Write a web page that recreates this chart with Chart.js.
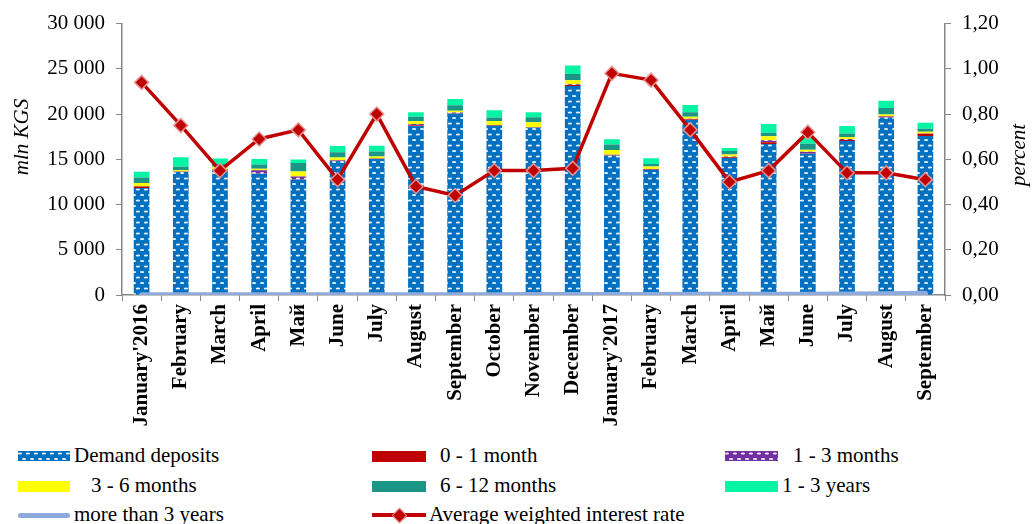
<!DOCTYPE html>
<html>
<head>
<meta charset="utf-8">
<script src="https://cdn.jsdelivr.net/npm/chart.js@4.4.1/dist/chart.umd.min.js"></script>
<style>
  html, body { margin: 0; padding: 0; background: #fff; }
  #wrap { position: relative; width: 1032px; height: 524px; overflow: hidden;
          font-family: "Liberation Serif", "Times New Roman", serif; }
  #chart-box { position: absolute; left: 0; top: 0; width: 1032px; height: 440px; }
  .lg { position: absolute; font-size: 21px; line-height: 21px; color: #000; white-space: pre; }
  .sw { position: absolute; }
</style>
</head>
<body>
<div id="wrap">
  <div id="chart-box"><canvas id="depChart"></canvas></div>
  <div id="legend"></div>
</div>
<script>
"use strict";

const months = ["January'2016", "February", "March", "April", "Май", "June", "July", "August",
    "September", "October", "November", "December", "January'2017", "February", "March", "April",
    "Май", "June", "July", "August", "September"];

// mln KGS, by term
const demand = [11830, 13590, 13850, 13400, 12780, 14800, 15020, 18680, 20050, 18720, 18480,
    23110, 15380, 13810, 19340, 15130, 16700, 15600, 17030, 19630, 17580];
const m0to1 = [150, 30, 50, 30, 20, 50, 30, 50, 80, 50, 30, 90, 30, 30, 70, 90, 180, 50, 110, 70, 250];
const m1to3 = [50, 30, 30, 370, 290, 50, 30, 180, 30, 30, 30, 90, 100, 100, 70, 90, 220, 180, 110, 70, 30];
const m3to6 = [350, 150, 250, 150, 550, 290, 220, 290, 220, 440, 550, 440, 510, 260, 220, 220, 440,
    220, 220, 180, 180];
const m6to12 = [620, 370, 300, 480, 950, 590, 550, 510, 590, 370, 550, 700, 620, 290, 510, 400, 400,
    660, 370, 730, 330];
const y1to3 = [620, 1060, 600, 590, 400, 700, 660, 480, 700, 800, 550, 950, 590, 620, 800, 330, 950,
    660, 840, 800, 660];
const over3y = [30, 30, 30, 30, 30, 30, 40, 40, 40, 40, 50, 50, 60, 60, 70, 70, 80, 90, 100, 130, 200];

// percent
const rate = [0.94, 0.75, 0.55, 0.69, 0.73, 0.51, 0.80, 0.48, 0.44, 0.55, 0.55, 0.56, 0.98, 0.95,
    0.73, 0.50, 0.55, 0.72, 0.54, 0.54, 0.51];

const leftTicks = [0, 5000, 10000, 15000, 20000, 25000, 30000];
const rightTicks = [0, 0.2, 0.4, 0.6, 0.8, 1.0, 1.2];

const FONT = '"Liberation Serif", "Times New Roman", serif';

// dashed fills (staggered white dashes)
function dashTile(bg) {
    const w = 8, h = 11;
    const c = document.createElement("canvas");
    c.width = w; c.height = h;
    const g = c.getContext("2d");
    g.fillStyle = bg;
    g.fillRect(0, 0, w, h);
    g.fillStyle = "rgba(255,255,255,0.9)";
    const dash = (x, y) => {
        g.beginPath(); g.ellipse(x, y, 2.1, 1.1, 0, 0, Math.PI * 2); g.fill();
    };
    dash(2, 2.5);
    dash(6, 8);
    dash(-2, 8);
    dash(10, 2.5);
    return c;
}
const blueTile = dashTile("#0070C0");
const purpleTile = dashTile("#7030A0");
const pctx = document.createElement("canvas").getContext("2d");
const bluePattern = pctx.createPattern(blueTile, "repeat");
const purplePattern = pctx.createPattern(purpleTile, "repeat");

function fmtThousands(v) {
    return String(Math.round(v)).replace(/\B(?=(\d{3})+(?!\d))/g, " ");
}

// both axis titles read bottom-to-top
const axisTitles = {
    id: "axisTitles",
    afterDraw(chart) {
        const c = chart.ctx;
        const put = (text, x, y) => {
            c.save();
            c.font = "italic 21px " + FONT;
            c.fillStyle = "#000";
            c.textAlign = "center";
            c.textBaseline = "middle";
            c.translate(x, y);
            c.rotate(-Math.PI / 2);
            c.fillText(text, 0, 0);
            c.restore();
        };
        put("mln KGS", 22, 137);
        put("percent", 1019, 155);
    }
};

function bar(label, data, color) {
    return {
        type: "bar", label: label, data: data, backgroundColor: color,
        stack: "dep", yAxisID: "y", order: 3, borderWidth: 0
    };
}

const ctx = document.getElementById("depChart").getContext("2d");
const depChart = new Chart(ctx, {
    data: {
        labels: months,
        datasets: [
            {
                type: "line", label: "Average weighted interest rate", data: rate, yAxisID: "y1",
                borderColor: "#C00000", borderWidth: 3.5, tension: 0,
                pointStyle: "rectRot", pointRadius: 7,
                pointBackgroundColor: "#C00000", pointBorderColor: "rgba(225,150,150,0.95)",
                pointBorderWidth: 1.5, order: 1
            },
            {
                type: "line", label: "more than 3 years", data: over3y, yAxisID: "y", stack: "ltd",
                borderColor: "#8EA9DB", borderWidth: 5, pointRadius: 0, borderCapStyle: "round",
                order: 2
            },
            bar("Demand deposits", demand, bluePattern),
            bar("0 - 1 month", m0to1, "#C00000"),
            bar("1 - 3 months", m1to3, purplePattern),
            bar("3 - 6 months", m3to6, "#FFFF00"),
            bar("6 - 12 months", m6to12, "#1B9585"),
            bar("1 - 3 years", y1to3, "#06F5A5")
        ]
    },
    options: {
        responsive: true,
        maintainAspectRatio: false,
        animation: false,
        layout: { padding: { top: 22, left: 0, right: 0, bottom: 0 } },
        datasets: { bar: { categoryPercentage: 1, barPercentage: 0.4 } },
        plugins: { legend: { display: false }, tooltip: { enabled: false }, title: { display: false } },
        scales: {
            x: {
                stacked: true,
                afterFit: s => { s.height = 145; },
                grid: { offset: true, drawOnChartArea: false, drawTicks: true, tickLength: 6, color: "#868686" },
                border: { color: "#868686", width: 1.5 },
                ticks: {
                    color: "#000", minRotation: 90, maxRotation: 90, autoSkip: false, padding: 3,
                    font: { family: FONT, size: 21, weight: "bold" }
                }
            },
            y: {
                stacked: true, position: "left", min: 0, max: 30000,
                afterFit: s => { s.width = 122; },
                afterBuildTicks: s => { s.ticks = leftTicks.map(v => ({ value: v })); },
                grid: { drawOnChartArea: false, drawTicks: true, tickLength: 6, color: "#868686" },
                border: { color: "#868686", width: 1.5 },
                ticks: {
                    color: "#000", padding: 11, callback: v => fmtThousands(v),
                    font: { family: FONT, size: 21 }
                }
            },
            y1: {
                position: "right", min: 0, max: 1.2,
                afterFit: s => { s.width = 87; },
                afterBuildTicks: s => { s.ticks = rightTicks.map(v => ({ value: v })); },
                grid: { drawOnChartArea: false, drawTicks: true, tickLength: 6, color: "#868686" },
                border: { color: "#868686", width: 1.5 },
                ticks: {
                    color: "#000", padding: 11, callback: v => v.toFixed(2).replace(".", ","),
                    font: { family: FONT, size: 21 }
                }
            }
        }
    },
    plugins: [axisTitles]
});

// legend, three columns
const legendItems = [
    { text: "Demand deposits", kind: "img", fill: blueTile.toDataURL(), sx: 18, sw: 52, sh: 10, tx: 74, y: 456 },
    { text: "0 - 1 month", kind: "box", fill: "#C00000", sx: 372, sw: 54, sh: 11, tx: 440, y: 456 },
    { text: "1 - 3 months", kind: "img", fill: purpleTile.toDataURL(), sx: 725, sw: 53, sh: 10, tx: 793, y: 456 },
    { text: "3 - 6 months", kind: "box", fill: "#FFFF00", sx: 18, sw: 52, sh: 11, tx: 91, y: 486 },
    { text: "6 - 12 months", kind: "box", fill: "#1B9585", sx: 372, sw: 54, sh: 11, tx: 440, y: 486 },
    { text: "1 - 3 years", kind: "box", fill: "#06F5A5", sx: 725, sw: 53, sh: 11, tx: 782, y: 486 },
    { text: "more than 3 years", kind: "line", fill: "#8EA9DB", sx: 18, sw: 52, sh: 5, tx: 74, y: 515 },
    { text: "Average weighted interest rate", kind: "rate", fill: "#C00000", sx: 372, sw: 54, sh: 4, tx: 429, y: 515 }
];

const legend = document.getElementById("legend");
legendItems.forEach(item => {
    const sw = document.createElement("div");
    sw.className = "sw";
    sw.style.left = item.sx + "px";
    sw.style.top = (item.y - item.sh / 2) + "px";
    sw.style.width = item.sw + "px";
    sw.style.height = item.sh + "px";
    if (item.kind === "img") {
        sw.style.backgroundImage = "url(" + item.fill + ")";
    } else {
        sw.style.background = item.fill;
    }
    if (item.kind === "line") sw.style.borderRadius = "3px";
    legend.appendChild(sw);
    if (item.kind === "rate") {
        const d = document.createElement("div");
        d.className = "sw";
        d.style.left = (item.sx + item.sw / 2 - 5) + "px";
        d.style.top = (item.y - 5) + "px";
        d.style.width = "9px";
        d.style.height = "9px";
        d.style.background = "#C00000";
        d.style.border = "1px solid rgba(225,150,150,0.95)";
        d.style.transform = "rotate(45deg)";
        legend.appendChild(d);
    }
    const t = document.createElement("div");
    t.className = "lg";
    t.style.left = item.tx + "px";
    t.style.top = (item.y - 11) + "px";
    t.textContent = item.text;
    legend.appendChild(t);
});
</script>
</body>
</html>
